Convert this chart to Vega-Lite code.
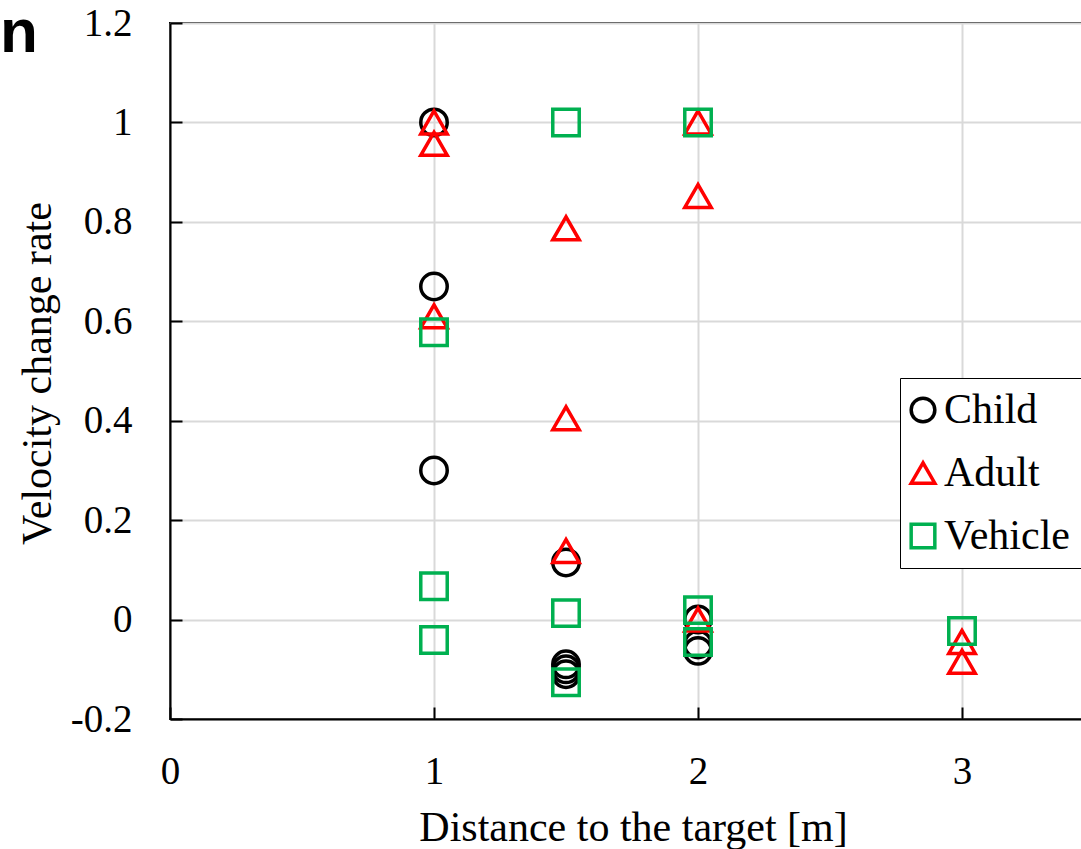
{
  "$schema": "https://vega.github.io/schema/vega-lite/v6.json",
  "autosize": "none",
  "width": 924,
  "height": 696,
  "padding": {"left": 170, "top": 23, "right": 0, "bottom": 130},
  "background": "white",
  "title": {
    "text": "n",
    "anchor": "start",
    "frame": "group",
    "orient": "top",
    "font": "Liberation Sans",
    "fontSize": 62,
    "fontWeight": "bold",
    "color": "black",
    "baseline": "alphabetic",
    "dx": -170,
    "dy": 110,
    "offset": 0
  },
  "config": {
    "view": {"stroke": "black", "strokeWidth": 2},
    "axis": {
      "labelFont": "Liberation Serif",
      "titleFont": "Liberation Serif",
      "labelColor": "black",
      "titleColor": "black",
      "titleFontWeight": "normal",
      "labelFontSize": 39,
      "titleFontSize": 42,
      "domainColor": "black",
      "domainWidth": 2,
      "tickColor": "black",
      "tickWidth": 2,
      "gridColor": "#D9D9D9",
      "gridWidth": 2
    }
  },
  "data": {
    "values": [
      {"d": 1, "v": 1.0, "type": "Child"},
      {"d": 1, "v": 0.67, "type": "Child"},
      {"d": 1, "v": 0.30, "type": "Child"},
      {"d": 1.5, "v": 0.115, "type": "Child"},
      {"d": 1.5, "v": -0.09, "type": "Child"},
      {"d": 1.5, "v": -0.10, "type": "Child"},
      {"d": 1.5, "v": -0.11, "type": "Child"},
      {"d": 2, "v": 0.0, "type": "Child"},
      {"d": 2, "v": -0.05, "type": "Child"},
      {"d": 2, "v": -0.063, "type": "Child"},
      {"d": 1, "v": 1.0, "type": "Adult"},
      {"d": 1, "v": 0.957, "type": "Adult"},
      {"d": 1, "v": 0.61, "type": "Adult"},
      {"d": 1.5, "v": 0.787, "type": "Adult"},
      {"d": 1.5, "v": 0.405, "type": "Adult"},
      {"d": 1.5, "v": 0.138, "type": "Adult"},
      {"d": 2, "v": 1.0, "type": "Adult"},
      {"d": 2, "v": 0.852, "type": "Adult"},
      {"d": 2, "v": 0.0, "type": "Adult"},
      {"d": 3, "v": -0.045, "type": "Adult"},
      {"d": 3, "v": -0.085, "type": "Adult"},
      {"d": 1, "v": 0.578, "type": "Vehicle"},
      {"d": 1, "v": 0.067, "type": "Vehicle"},
      {"d": 1, "v": -0.041, "type": "Vehicle"},
      {"d": 1.5, "v": 1.0, "type": "Vehicle"},
      {"d": 1.5, "v": 0.013, "type": "Vehicle"},
      {"d": 1.5, "v": -0.126, "type": "Vehicle"},
      {"d": 2, "v": 1.0, "type": "Vehicle"},
      {"d": 2, "v": 0.019, "type": "Vehicle"},
      {"d": 2, "v": -0.045, "type": "Vehicle"},
      {"d": 3, "v": -0.023, "type": "Vehicle"}
    ]
  },
  "mark": {"type": "point", "filled": false, "strokeWidth": 3.5, "size": 700, "opacity": 1},
  "encoding": {
    "x": {
      "field": "d",
      "type": "quantitative",
      "scale": {"domain": [0, 3.5], "nice": false, "zero": false},
      "axis": {
        "title": "Distance to the target [m]",
        "values": [0, 1, 2, 3],
        "grid": true,
        "tickSize": -12,
        "labelPadding": 76,
        "labelBaseline": "alphabetic",
        "labelFlush": false,
        "titleX": 463,
        "titleY": 121,
        "titleBaseline": "alphabetic",
        "titleAlign": "center"
      }
    },
    "y": {
      "field": "v",
      "type": "quantitative",
      "scale": {"domain": [-0.2, 1.2], "nice": false, "zero": false},
      "axis": {
        "title": "Velocity change rate",
        "values": [-0.2, 0, 0.2, 0.4, 0.6, 0.8, 1.0, 1.2],
        "labelExpr": "round(datum.value*10)/10 + ''",
        "grid": true,
        "tickSize": -12,
        "labelPadding": 50,
        "labelFlush": false,
        "labelBaseline": "middle",
        "titleX": -120,
        "titleY": 350,
        "titleAngle": -90,
        "titleBaseline": "alphabetic",
        "titleAlign": "center"
      }
    },
    "color": {
      "field": "type",
      "type": "nominal",
      "scale": {"domain": ["Child", "Adult", "Vehicle"], "range": ["#000000", "#FF0000", "#00B050"]},
      "legend": {
        "title": null,
        "orient": "none",
        "legendX": 730,
        "legendY": 355,
        "direction": "vertical",
        "fillColor": "white",
        "strokeColor": "black",
        "padding": 11,
        "rowPadding": 21,
        "labelFont": "Liberation Serif",
        "labelFontSize": 42,
        "labelColor": "black",
        "labelOffset": 0,
        "symbolOffset": -9,
        "symbolSize": 560,
        "symbolStrokeWidth": 3.5,
        "labelLimit": 400,
        "encode": {"legend": {"update": {"strokeWidth": {"value": 2}}}}
      }
    },
    "shape": {
      "field": "type",
      "type": "nominal",
      "scale": {"domain": ["Child", "Adult", "Vehicle"], "range": ["circle", "triangle-up", "square"]}
    }
  }
}
